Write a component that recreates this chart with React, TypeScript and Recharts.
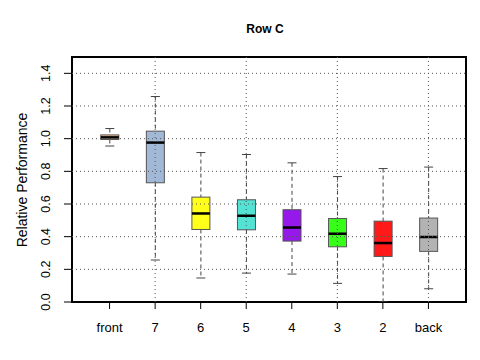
import { ComposedChart, Bar, XAxis, YAxis, ReferenceLine, ReferenceArea } from "recharts";

const categories = ["front", "7", "6", "5", "4", "3", "2", "back"];
const mins = [0.955, 0.257, 0.147, 0.177, 0.171, 0.114, 0.0, 0.081];
const q1s = [0.995, 0.73, 0.444, 0.442, 0.373, 0.338, 0.279, 0.31];
const medians = [1.008, 0.976, 0.542, 0.528, 0.456, 0.418, 0.361, 0.398];
const q3s = [1.023, 1.046, 0.642, 0.626, 0.565, 0.511, 0.495, 0.514];
const maxs = [1.062, 1.258, 0.915, 0.903, 0.852, 0.768, 0.817, 0.826];
const colors = ["#F6B784", "#97B0D3", "#FFFF00", "#40E0D0", "#8A00E8", "#22FF00", "#FF0000", "#ABABAB"];
const yTicks = [0, 0.2, 0.4, 0.6, 0.8, 1.0, 1.2, 1.4];
const gridX = [2, 4, 6, 8];

const FONT = "'Liberation Sans', Arial, Helvetica, sans-serif";

const data = categories.map((name, i) => ({
  pos: i + 1,
  name,
  min: mins[i],
  q1: q1s[i],
  median: medians[i],
  q3: q3s[i],
  max: maxs[i],
  color: colors[i],
}));

// the bar covers [min, max]; the rest of the box is placed inside that span
function BoxShape(props: any) {
  const { x, y, width, height, payload } = props;
  const p = payload;
  const span = p.max - p.min;
  const py = (v: number) => y + (height * (p.max - v)) / span;
  const cx = x + width / 2;
  const cap = width / 4;
  return (
    <g>
      <line x1={cx} x2={cx} y1={py(p.max)} y2={py(p.q3)} stroke="#444" strokeDasharray="4 3" />
      <line x1={cx} x2={cx} y1={py(p.q1)} y2={py(p.min)} stroke="#444" strokeDasharray="4 3" />
      <line x1={cx - cap} x2={cx + cap} y1={py(p.max)} y2={py(p.max)} stroke="#444" />
      <line x1={cx - cap} x2={cx + cap} y1={py(p.min)} y2={py(p.min)} stroke="#444" />
      <rect
        x={x}
        y={py(p.q3)}
        width={width}
        height={py(p.q1) - py(p.q3)}
        fill={p.color}
        fillOpacity={0.9}
        stroke="#555"
        strokeWidth={1}
      />
      <line x1={x} x2={x + width} y1={py(p.median)} y2={py(p.median)} stroke="#000" strokeWidth={2.5} />
    </g>
  );
}

function XTick(props: any) {
  const { x, payload } = props;
  return (
    <text x={x} y={332} textAnchor="middle" fontSize={13} fontFamily={FONT} fill="#000">
      {categories[payload.value - 1]}
    </text>
  );
}

function YTick(props: any) {
  const { y, payload } = props;
  return (
    <text
      x={50}
      y={y}
      transform={`rotate(-90 50 ${y})`}
      textAnchor="middle"
      fontSize={12.5}
      fontFamily={FONT}
      fill="#000"
    >
      {payload.value.toFixed(1)}
    </text>
  );
}

export default function App() {
  return (
    <div style={{ position: "absolute", left: 0, top: 0, width: 480, height: 360, background: "#fff" }}>
      <div
        style={{
          position: "absolute",
          left: 0,
          width: 530,
          top: 22,
          textAlign: "center",
          fontFamily: FONT,
          fontWeight: "bold",
          fontSize: 12,
        }}
      >
        Row C
      </div>
      <div
        style={{
          position: "absolute",
          left: 22,
          top: 180,
          transform: "translate(-50%, -50%) rotate(-90deg)",
          fontFamily: FONT,
          fontSize: 14,
          lineHeight: "16px",
          whiteSpace: "nowrap",
        }}
      >
        Relative Performance
      </div>
      <ComposedChart width={480} height={360} data={data} margin={{ top: 57, right: 14, bottom: 0, left: 0 }}>
        <XAxis
          type="number"
          dataKey="pos"
          domain={[0.175, 8.825]}
          ticks={[1, 2, 3, 4, 5, 6, 7, 8]}
          height={58}
          axisLine={false}
          tickLine={{ stroke: "#000" }}
          tickSize={7}
          tick={<XTick />}
          allowDataOverflow
        />
        <YAxis
          type="number"
          domain={[0, 1.5]}
          ticks={yTicks}
          width={72}
          axisLine={false}
          tickLine={{ stroke: "#000" }}
          tickSize={8}
          tick={<YTick />}
          allowDataOverflow
        />
        <Bar dataKey={(d: any) => [d.min, d.max]} barSize={18} shape={<BoxShape />} isAnimationActive={false} />
        {yTicks
          .filter((t) => t > 0)
          .map((t) => (
            <ReferenceLine key={"h" + t} y={t} stroke="#555" strokeDasharray="1 3" />
          ))}
        {gridX.map((g) => (
          <ReferenceLine key={"v" + g} x={g} stroke="#555" strokeDasharray="1 3" />
        ))}
        <ReferenceArea x1={0.175} x2={8.825} y1={0} y2={1.5} fill="none" stroke="#000" strokeWidth={2} />
      </ComposedChart>
    </div>
  );
}
